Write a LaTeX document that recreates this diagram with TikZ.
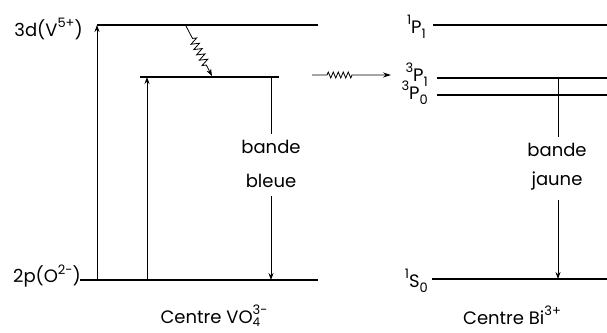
\documentclass[tikz,border=0pt]{standalone}
\usepackage{fontspec}
\setmainfont{Poppins}
\usetikzlibrary{decorations.pathmorphing,arrows.meta}
\newcommand{\myup}[1]{\raisebox{0.85ex}{\fontsize{13}{13}\selectfont #1}}
\newcommand{\mydn}[1]{\raisebox{-0.55ex}{\fontsize{13}{13}\selectfont #1}}
\newcommand{\mydnc}[1]{\raisebox{-0.35ex}{\fontsize{12}{12}\selectfont #1}}
\begin{document}
\begin{tikzpicture}[x=1pt,y=-1pt,
  level/.style={line width=2pt},
  trans/.style={line width=0.8pt},
  upar/.style={trans,-{Stealth[length=7pt,width=5pt]}},
  lbl/.style={font=\fontsize{18}{20}\selectfont,inner sep=0pt}
]
\useasboundingbox (0,0) rectangle (607,332);
% left levels
\coordinate (dL) at (97,25); \coordinate (dR) at (318,25);
\coordinate (mL) at (140,77); \coordinate (mR) at (279,77);
\coordinate (pL) at (80,280); \coordinate (pR) at (318,280);
\draw[level] (dL) -- (dR);
\draw[level] (mL) -- (mR);
\draw[level] (pL) -- (pR);
\node[lbl,anchor=east] (l3d) at (83,29) {3d(V\myup{5+})};
\node[lbl,anchor=east] (l2p) at (81,276) {2p(O\myup{2-})};
% up arrows
\coordinate (a1b) at (97,280); \coordinate (a1t) at (97,25);
\coordinate (a2b) at (147,280); \coordinate (a2t) at (147,77);
\draw[upar] (a1b) -- (a1t);
\draw[upar] (a2b) -- (a2t);
% blue band
\node[lbl] (bb1) at (271,147) {bande};
\node[lbl] (bb2) at (271,181) {bleue};
\coordinate (b1t) at (271,77); \coordinate (b1a) at (271,134);
\coordinate (b1c) at (271,196); \coordinate (b1b) at (271,280);
\draw[trans] (b1t) -- (b1a);
\draw[upar] (b1c) -- (b1b);
% wavy internal
\coordinate (w1s) at (186,26); \coordinate (w1e) at (212,76);
\draw[trans,-{Stealth[length=7pt,width=5pt]},decorate,decoration={zigzag,segment length=6pt,amplitude=4pt,pre length=14pt,post length=10pt}] (w1s) -- (w1e);
% transfer wavy
\coordinate (w2s) at (312,75); \coordinate (w2e) at (391,75);
\draw[trans,-{Stealth[length=8pt,width=5pt]},decorate,decoration={zigzag,segment length=5pt,amplitude=3pt,pre length=15pt,post length=38pt}] (w2s) -- (w2e);
% right levels
\coordinate (r1L) at (433,25); \coordinate (r1R) at (607,25);
\coordinate (r2L) at (437,78); \coordinate (r2R) at (607,78);
\coordinate (r3L) at (437,95); \coordinate (r3R) at (607,95);
\coordinate (r4L) at (432,279); \coordinate (r4R) at (607,279);
\draw[level] (r1L) -- (r1R);
\draw[level] (r2L) -- (r2R);
\draw[level] (r3L) -- (r3R);
\draw[level] (r4L) -- (r4R);
\node[lbl,anchor=east] (t1) at (426,27) {\myup{1}P\mydn{1}};
\node[lbl,anchor=east] (t2) at (428,75) {\myup{3}P\mydn{1}};
\node[lbl,anchor=east] (t3) at (428,93) {\myup{3}P\mydn{0}};
\node[lbl,anchor=east] (t4) at (428,281) {\myup{1}S\mydn{0}};
% yellow band
\node[lbl] (yb1) at (557,150) {bande};
\node[lbl] (yb2) at (557,181) {jaune};
\coordinate (b2t) at (558,78); \coordinate (b2a) at (558,137);
\coordinate (b2c) at (558,200); \coordinate (b2b) at (558,279);
\draw[trans] (b2t) -- (b2a);
\draw[upar] (b2c) -- (b2b);
% captions
\node[lbl,anchor=base] (c1) at (214,323) {Centre VO\rlap{\mydnc{4}}\myup{3-}};
\node[lbl,anchor=base] (c2) at (512,324) {Centre Bi\myup{3+}};
\end{tikzpicture}
\end{document}
